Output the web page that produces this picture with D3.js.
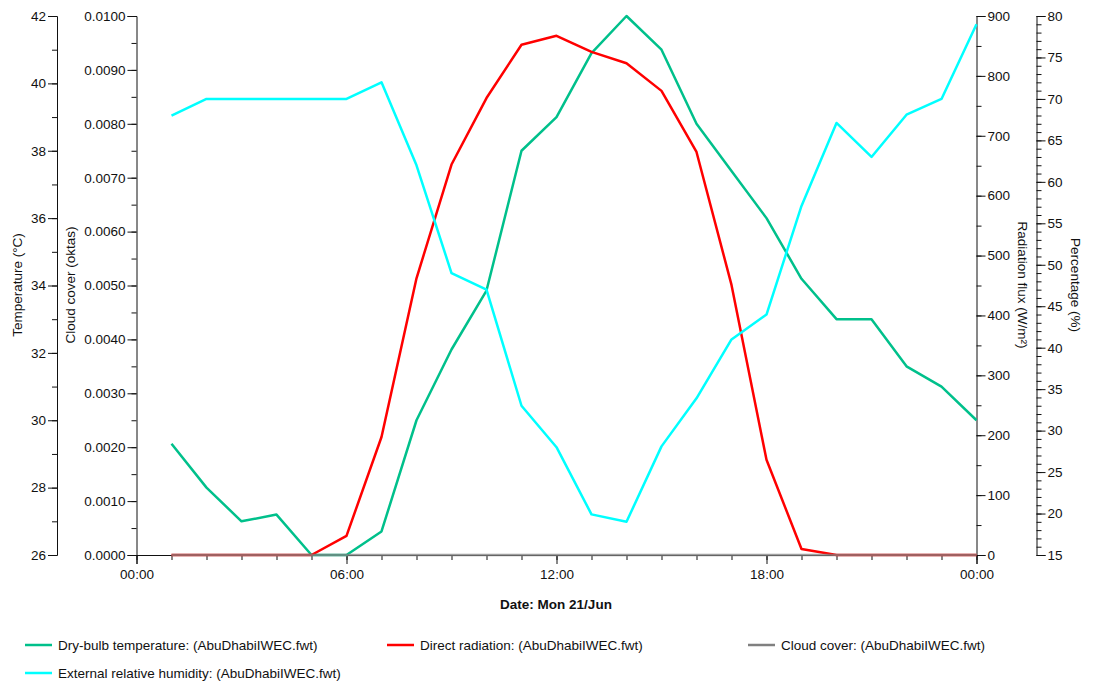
<!DOCTYPE html>
<html>
<head>
<meta charset="utf-8">
<script src="https://cdn.jsdelivr.net/npm/d3@7"></script>
<style>
  body { margin: 0; background: #fff; }
  svg text { font-family: "Liberation Sans", Arial, sans-serif; fill: #111; }
</style>
</head>
<body>
<div id="chart"></div>
<script>
// hourly values, 01:00 .. 00:00 (next day)
var hours = [1,2,3,4,5,6,7,8,9,10,11,12,13,14,15,16,17,18,19,20,21,22,23,24];
var temperature = [29.3,28.0,27.0,27.2,26.0,26.0,26.7,30.0,32.1,33.85,38.0,39.0,40.9,42.0,41.0,38.8,37.4,36.0,34.2,33.0,33.0,31.6,31.0,30.0];
var radiation = [0,0,0,0,0,32,197,462,652,763,852,867,840,821,775,673,451,159,10,0,0,0,0,0];
var cloud = [0,0,0,0,0,0,0,0,0,0,0,0,0,0,0,0,0,0,0,0,0,0,0,0];
var humidity = [68.0,70,70,70,70,70,72.0,62.0,49.0,47.0,33.0,28.0,19.9,19.0,28.1,33.9,41.0,44.0,57.1,67.1,63.0,68.1,70.0,79.0];

var legendItems = [
  {label: "Dry-bulb temperature: (AbuDhabiIWEC.fwt)", color: "#00c08b"},
  {label: "Direct radiation: (AbuDhabiIWEC.fwt)", color: "#ff0000"},
  {label: "Cloud cover: (AbuDhabiIWEC.fwt)", color: "#808080"},
  {label: "External relative humidity: (AbuDhabiIWEC.fwt)", color: "#00ffff"}
];

var Chart = function() {
  var W = 1093, H = 686;
  var plotLeft = 136.5, plotRight = 976.5, plotTop = 16, plotBottom = 555;

  var svg = d3.select("#chart").append("svg")
      .attr("width", W)
      .attr("height", H);

  function hourDate(h) { return new Date(2021, 5, 21, h, 0); }

  var x = d3.scaleTime().domain([hourDate(0), hourDate(24)]).range([plotLeft, plotRight]);
  var yTemp = d3.scaleLinear().domain([26, 42]).range([plotBottom, plotTop]);
  var yCloud = d3.scaleLinear().domain([0, 0.01]).range([plotBottom, plotTop]);
  var yRad = d3.scaleLinear().domain([0, 900]).range([plotBottom, plotTop]);
  var yPct = d3.scaleLinear().domain([15, 80]).range([plotBottom, plotTop]);

  var fontSize = "13.5px";

  // draw an axis with major + minor ticks
  function axis(gen, scale, major, minor, fmt, transform, pad) {
    var gMinor = svg.append("g")
        .attr("transform", transform)
        .call(gen(scale).tickValues(minor).tickSize(5).tickFormat(""));
    gMinor.select(".domain").remove();
    var g = svg.append("g")
        .attr("transform", transform)
        .call(gen(scale).tickValues(major).tickSize(9).tickPadding(pad || 2).tickFormat(fmt));
    g.selectAll("text").style("font-size", fontSize).attr("fill", "#111");
    g.select(".domain").attr("stroke", "#111");
    return g;
  }

  axis(d3.axisLeft, yTemp, d3.range(26, 43, 2), d3.range(26, 43, 1), d3.format("d"), "translate(57,0)");
  axis(d3.axisLeft, yCloud, d3.range(0, 0.01001, 0.001), d3.range(0, 0.01001, 0.0005), d3.format(".4f"), "translate(" + plotLeft + ",0)");
  axis(d3.axisRight, yRad, d3.range(0, 901, 100), d3.range(0, 901, 50), d3.format("d"), "translate(" + plotRight + ",0)");
  axis(d3.axisRight, yPct, d3.range(15, 81, 5), d3.range(15, 81, 1), d3.format("d"), "translate(1036.5,0)");

  var xMajor = [0, 6, 12, 18, 24].map(hourDate);
  var xMinor = d3.range(0, 25).map(hourDate);
  axis(d3.axisBottom, x, xMajor, xMinor, d3.timeFormat("%H:%M"), "translate(0," + plotBottom + ")", 5);
  svg.selectAll("g line").attr("stroke", "#111");

  // axis titles
  function rotTitle(tx, ty, angle, text) {
    svg.append("text")
        .attr("transform", "translate(" + tx + "," + ty + ") rotate(" + angle + ")")
        .attr("text-anchor", "middle")
        .style("font-size", fontSize)
        .text(text);
  }
  rotTitle(22, 285, -90, "Temperature (\u00b0C)");
  rotTitle(75, 285, -90, "Cloud cover (oktas)");
  rotTitle(1018, 285, 90, "Radiation flux (W/m\u00b2)");
  rotTitle(1071, 285, 90, "Percentage (%)");

  svg.append("text")
      .attr("x", 556).attr("y", 609)
      .attr("text-anchor", "middle")
      .style("font-size", fontSize)
      .style("font-weight", "bold")
      .text("Date: Mon 21/Jun");

  // series lines
  function drawLine(values, yScale, color, opacity) {
    var line = d3.line()
        .x(function(d, i) { return x(hourDate(hours[i])); })
        .y(function(d) { return yScale(d); });
    svg.append("path")
        .datum(values)
        .attr("fill", "none")
        .attr("stroke", color)
        .attr("stroke-width", 2.5)
        .attr("stroke-linejoin", "round")
        .attr("stroke-opacity", opacity)
        .attr("d", line);
  }
  drawLine(temperature, yTemp, legendItems[0].color, 1);
  drawLine(radiation, yRad, legendItems[1].color, 1);
  drawLine(humidity, yPct, legendItems[3].color, 1);
  drawLine(cloud, yCloud, legendItems[2].color, 0.75);

  // legend
  var legendPos = [[25, 645], [387, 645], [748, 645], [25, 673]];
  legendItems.forEach(function(d, i) {
    var p = legendPos[i];
    svg.append("line")
        .attr("x1", p[0]).attr("x2", p[0] + 27)
        .attr("y1", p[1]).attr("y2", p[1])
        .attr("stroke", d.color)
        .attr("stroke-width", 2.5);
    svg.append("text")
        .attr("x", p[0] + 33).attr("y", p[1] + 5)
        .style("font-size", fontSize)
        .text(d.label);
  });
};

Chart();
</script>
</body>
</html>
